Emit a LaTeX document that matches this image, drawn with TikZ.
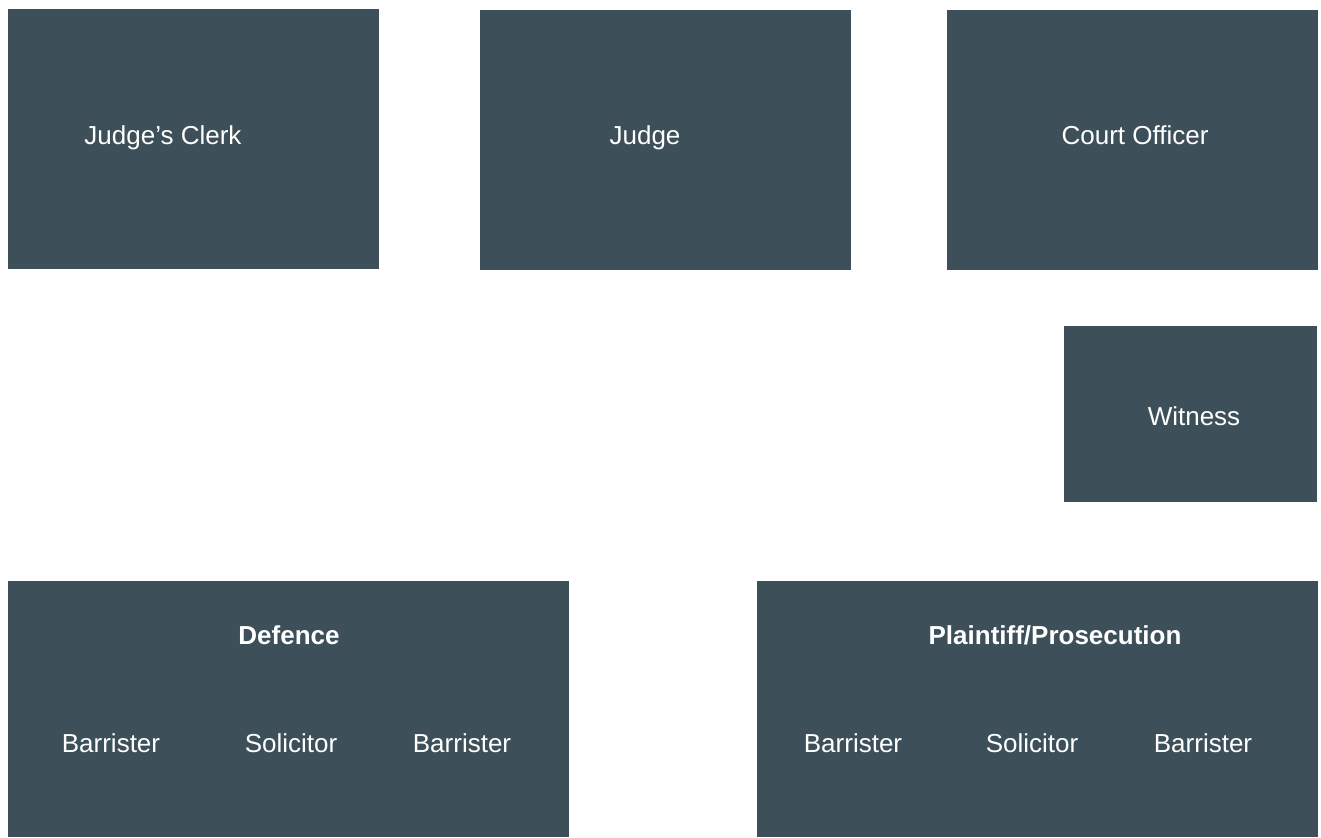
\documentclass[tikz,border=0pt]{standalone}
\usepackage{fontspec}
\setmainfont{Liberation Sans}
\usetikzlibrary{positioning}
\definecolor{slate}{RGB}{61,80,89}

\tikzset{
  room/.style={fill=slate,draw=none},
  role/.style={text=white,font=\fontsize{13}{15}\selectfont,anchor=base,inner sep=0pt},
  party/.style={role,font=\fontsize{13}{15}\selectfont\bfseries}
}

\begin{document}
\begin{tikzpicture}[x=0.5pt,y=-0.5pt]
  \useasboundingbox (0,0) rectangle (1321,837);
  % bench
  \fill[room] (8,9)    rectangle (379,269);
  \fill[room] (480,10) rectangle (851,270);
  \fill[room] (947,10) rectangle (1318,270);
  \node[role] (clerk)   at (163,144)  {Judge’s Clerk};
  \node[role] (judge)   at (645,144)  {Judge};
  \node[role] (officer) at (1135,144) {Court Officer};
  % witness box
  \fill[room] (1064,326) rectangle (1317,502);
  \node[role] (witness) at (1194,425) {Witness};
  % parties
  \fill[room] (8,581)   rectangle (569,837);
  \fill[room] (757,581) rectangle (1318,837);
  \node[party] (defence)  at (289,644)  {Defence};
  \node[party] (plaintiff) at (1055,644) {Plaintiff/Prosecution};
  \node[role] (dbar1) at (111,752) {Barrister};
  \node[role] (dsol)  at (291,752) {Solicitor};
  \node[role] (dbar2) at (462,752) {Barrister};
  \node[role] (pbar1) at (853,752)  {Barrister};
  \node[role] (psol)  at (1032,752) {Solicitor};
  \node[role] (pbar2) at (1203,752) {Barrister};
\end{tikzpicture}
\end{document}
